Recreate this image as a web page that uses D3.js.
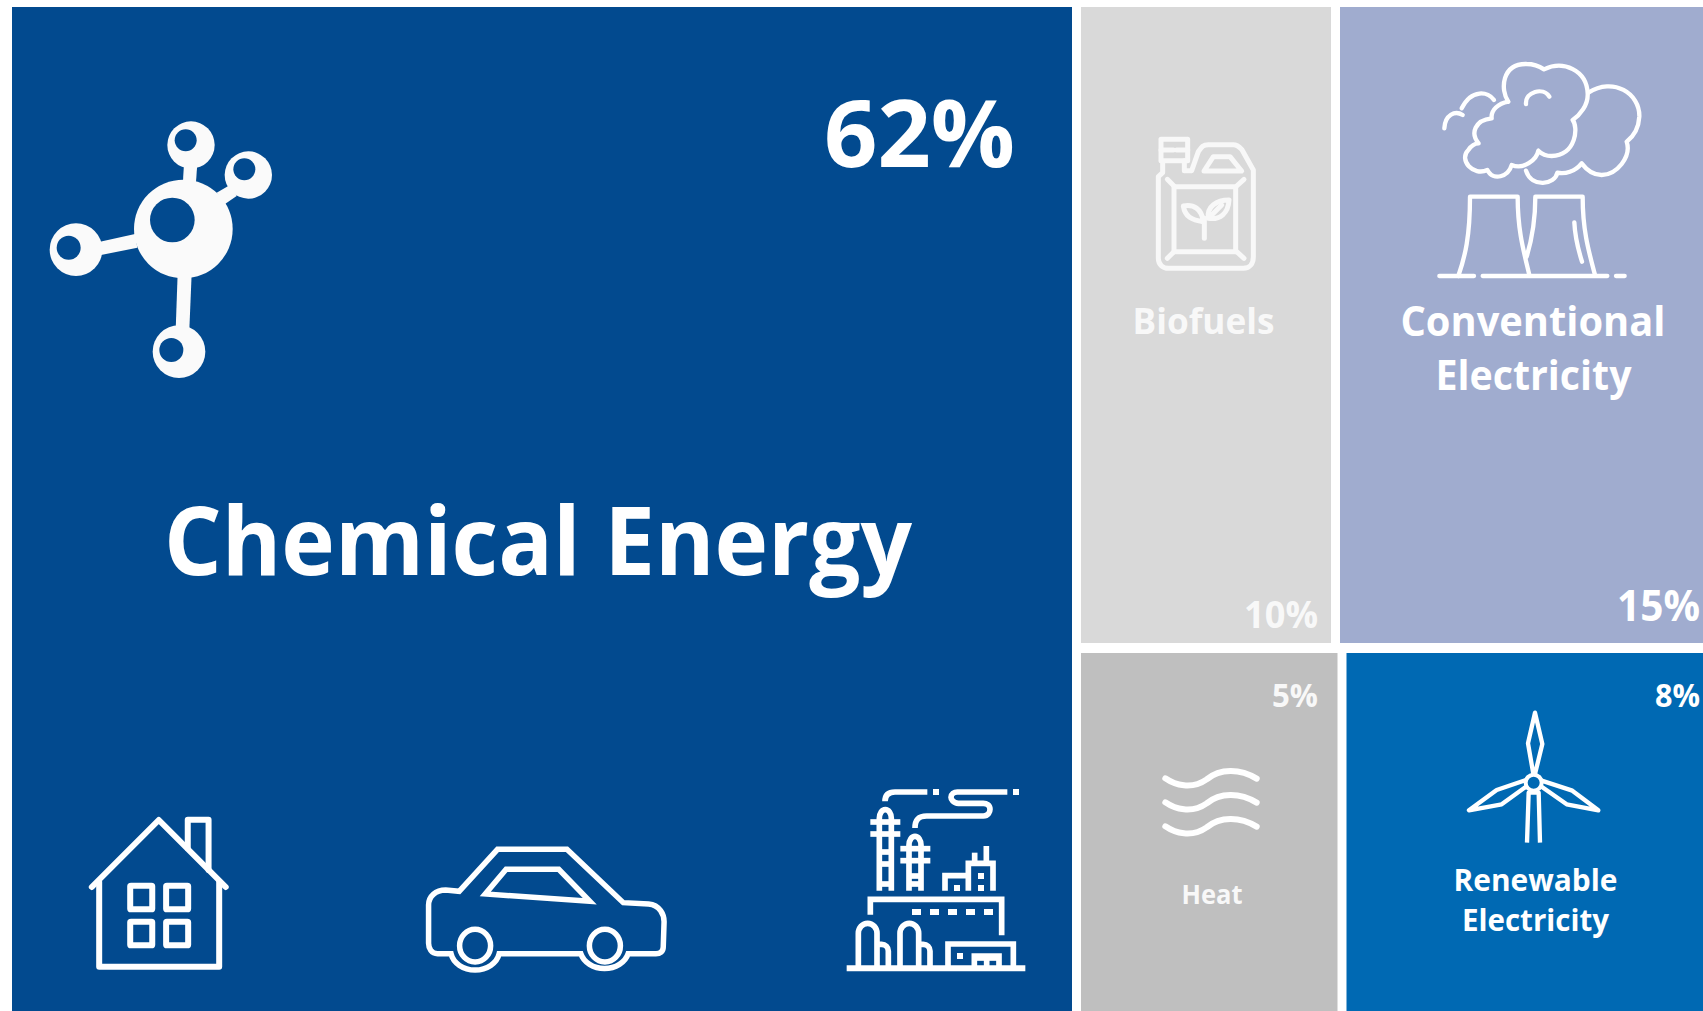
<!DOCTYPE html>
<html><head><meta charset="utf-8">
<script src="https://cdn.jsdelivr.net/npm/d3@7"></script>
<style>html,body{margin:0;padding:0;background:#fff;overflow:hidden}svg{display:block}</style>
</head><body><svg id="c" width="1703" height="1011"></svg>
<script>
const categories = ["Chemical Energy","Biofuels","Conventional Electricity","Heat","Renewable Electricity"];
const shares = [62,10,15,5,8];
const fills = ["#024a8f","#d9d9d9","#a0accf","#bfbfbf","#0069b3"];
const textFills = ["#ffffff","#f8f8f8","#ffffff","#f8f8f8","#ffffff"];

const W=1703,H=1011;
const FONT='"Open Sans", "Noto Sans", sans-serif';
const rest=shares[1]+shares[2]+shares[3]+shares[4];
const topSum=shares[1]+shares[2], botSum=shares[3]+shares[4];
const xMain=d3.scaleLinear().domain([0,shares[0],shares[0]+rest]).range([12,1076.5,W]);
const yRight=d3.scaleLinear().domain([0,topSum,rest]).range([7,648,H]);
const xTop=d3.scaleLinear().domain([0,shares[1],topSum]).range([1076.5,1335.5,W]);
const xBot=d3.scaleLinear().domain([0,shares[3],botSum]).range([1076.5,1342,W]);
const gap=4.5;
const cells=[
 {x0:xMain(0),x1:xMain(shares[0])-gap,y0:7,y1:H},
 {x0:xTop(0)+gap,x1:xTop(shares[1])-gap,y0:yRight(0),y1:yRight(topSum)-5},
 {x0:xTop(shares[1])+gap,x1:xTop(topSum),y0:yRight(0),y1:yRight(topSum)-5},
 {x0:xBot(0)+gap,x1:xBot(shares[3])-gap,y0:yRight(topSum)+5,y1:H},
 {x0:xBot(shares[3])+gap,x1:xBot(botSum),y0:yRight(topSum)+5,y1:H}
];
const svg=d3.select("#c");
svg.selectAll("rect.cell").data(cells).join("rect").attr("class","cell")
 .attr("x",d=>d.x0).attr("y",d=>d.y0).attr("width",d=>d.x1-d.x0).attr("height",d=>d.y1-d.y0)
 .attr("fill",(d,i)=>fills[i]);

function txt(s,x,y,size,anchor,fill,len){
 const t=svg.append("text").attr("x",x).attr("y",y).attr("font-family",FONT).attr("font-weight",700)
  .attr("font-size",size).attr("text-anchor",anchor).attr("fill",fill).text(s);
 if(len) t.attr("textLength",len).attr("lengthAdjust","spacingAndGlyphs");
 return t;
}
const pct=v=>v+"%";
txt(categories[0],538,575,95,"middle",textFills[0],748);
txt(pct(shares[0]),1015,167,94,"end",textFills[0],191);
txt(categories[1],1203.5,334,35,"middle",textFills[1],142);
txt(pct(shares[1]),1318,628,37,"end",textFills[1],74);
txt("Conventional",1533,336,42,"middle",textFills[2],265);
txt("Electricity",1533.5,390,42,"middle",textFills[2],196);
txt(pct(shares[2]),1700,620.5,43,"end",textFills[2],83);
txt(categories[3],1212,904,26,"middle",textFills[3],61);
txt(pct(shares[3]),1318,707,32,"end",textFills[3],46);
txt("Renewable",1535.5,891,30,"middle",textFills[4],164);
txt("Electricity",1535.5,931,30,"middle",textFills[4],147);
txt(pct(shares[4]),1700,707,32,"end",textFills[4],45);

function icon(ox,oy,sx=3,sy=3){return svg.append("g").attr("transform",`translate(${ox},${oy}) scale(${1/sx},${1/sy})`).attr("fill","none");}
function paths(g,list,color,w,extra){list.forEach(d=>{const p=g.append("path").attr("d",d).attr("stroke",color).attr("stroke-width",w);
 if(extra)Object.entries(extra).forEach(([k,v])=>p.attr(k,v));});}
function squares(g,list,color,s){list.forEach(([x,y])=>g.append("rect").attr("x",x).attr("y",y).attr("width",s).attr("height",s).attr("fill",color));}

// molecule
{const g=icon(0,60),c="#fafafa",bg=fills[0];
 [[550,507,148],[573,255,71],[745,345,71],[228,569,79],[537,875,79]].forEach(a=>g.append("circle").attr("cx",a[0]).attr("cy",a[1]).attr("r",a[2]).attr("fill",c));
 ["M552,310L592,310L587,380L548,380Z","M650,398L690,375L710,408L675,432Z","M300,545L405,522L412,563L303,585Z","M533,640L575,640L568,810L527,810Z"].forEach(d=>g.append("path").attr("d",d).attr("fill",c));
 [[517,480,67],[557,241,33],[733,328,33],[206,563,36],[514,870,36]].forEach(a=>g.append("circle").attr("cx",a[0]).attr("cy",a[1]).attr("r",a[2]).attr("fill",bg));
}
// house (crop was 2.45x wide, 3x tall)
{const g=icon(60,760,2.45,3),c="#fff",o={"stroke-linejoin":"round","stroke-linecap":"round","vector-effect":"non-scaling-stroke"};
 paths(g,["M78,381L242,180L406,381","M96,365V620H390V365","M313,265V179H364V330"],c,6,o);
 [[172,377],[260,377],[172,485],[260,485]].forEach(([x,y])=>g.append("rect").attr("x",x).attr("y",y).attr("width",54).attr("height",71).attr("rx",2).attr("stroke",c).attr("stroke-width",6).attr("vector-effect","non-scaling-stroke"));
}
// car
{const g=icon(60,760,2.45,3),c="#fff",o={"vector-effect":"non-scaling-stroke"};
 paths(g,["M978,394L1072,268H1242L1380,428L1442,432C1470,435 1480,465 1480,485L1478,560C1478,575 1470,581 1460,581L1392,581A60,60 0 0 1 1276,581L1076,581A60,60 0 0 1 958,581L925,581C910,581 903,565 903,550L903,435C903,410 920,390 945,390Z",
  "M1093,328H1222L1298,424L1042,402Z"],c,5.5,o);
 [1017,1335].forEach(x=>g.append("ellipse").attr("cx",x).attr("cy",557).attr("rx",38).attr("ry",49).attr("stroke",c).attr("stroke-width",5.5).attr("vector-effect","non-scaling-stroke"));
}
// factory
{const g=icon(820,760),c="#fff";
 paths(g,["M80,625H616"],c,18);
 paths(g,["M115,620V520A28,30 0 0 1 171,520V620","M171,553H185A20,20 0 0 1 205,573V620",
  "M240,620V520A28,30 0 0 1 296,520V620","M296,553H310A20,20 0 0 1 330,573V620",
  "M384,620V552H580V620","M463,620V588H537V620","M463,594H537","M500,588V620",
  "M151,464V418H545V526",
  "M178,392V175A18,26 0 0 1 214,175V392","M151,186H241","M151,222H241","M178,276H214","M178,312H214","M178,372H214",
  "M267,392V255A18,26 0 0 1 303,255V392","M241,266H331","M241,302H331","M267,348H303","M267,372H303",
  "M195,124C195,105 205,96 225,96H322",
  "M285,204C285,180 295,168 320,168H490C505,168 510,155 510,148C510,135 500,130 490,130H415C400,130 393,118 393,112C393,103 402,96 412,96H562",
  "M375,392V347H445","M445,392V310H519V392","M464,305V278","M499,305V258"],c,17);
 squares(g,[[339,87],[579,87],[402,375],[474,339],[474,375],[411,579]],c,18);
 [276,330,384,438,492].forEach(x=>g.append("rect").attr("x",x).attr("y",447).attr("width",27).attr("height",18).attr("fill",c));
}
// jerrycan
{const g=icon(1060,0),c="#f8f8f8",o={"stroke-linejoin":"round","stroke-linecap":"round"};
 paths(g,["M303,418H383V482H303Z","M303,450H340","M383,450H350",
  "M308,485V518L295,530V775C295,795 310,805 325,805H550C570,805 580,790 580,770V510L545,448C535,437 530,434 520,434H445C430,434 425,440 415,455L395,512H373V482",
  "M432,513L460,470H510L545,513Z","M342,560H527V755H342Z","M322,538L342,558","M552,538L530,558","M322,775L342,755","M552,775L530,755",
  "M433,715V655","M370,618C400,612 425,625 430,665C395,660 375,650 370,618Z","M445,655C440,620 470,600 507,600C505,640 480,660 445,655Z","M450,650L485,615"],c,15,o);
}
// power plant
{const g=icon(1400,30),c="#fff",o={"stroke-linecap":"round","stroke-linejoin":"round"};
 paths(g,["M175,738C195,680 210,620 210,500H353C353,600 370,660 388,735","M380,680C395,630 406,570 406,500H548C548,600 565,660 585,735","M523,577C525,620 535,660 546,695",
  "M118,738H222","M248,738H622","M648,738H674",
  "M325,215C300,180 305,100 380,102C405,102 420,110 432,118C490,90 560,120 563,190C565,225 540,255 518,270C535,290 530,375 455,378C440,378 425,372 415,362C410,390 370,420 335,405C325,440 280,455 262,420C220,440 175,390 205,360C215,345 225,340 236,340C210,310 225,270 275,265C272,240 295,220 325,215",
  "M565,188C640,140 720,190 718,260C716,295 700,320 680,335C695,380 650,435 605,435C580,435 560,420 545,400C525,425 495,433 472,428C465,465 395,475 378,422",
  "M378,222C375,185 430,170 448,200","M282,210C265,185 215,175 185,235","M188,255C165,240 135,255 133,295"],c,13,o);
}
// heat
{const g=icon(1060,620),c="#fff";
 [0,72,144].forEach(dy=>paths(g,[`M316,${475+dy}C345,${495+dy} 395,${510+dy} 440,${478+dy}C480,${445+dy} 540,${445+dy} 590,${476+dy}`],c,18,{"stroke-linecap":"round"}));
}
// turbine
{const g=icon(1400,620),c="#fff",o={"stroke-linejoin":"round"};
 g.append("circle").attr("cx",401).attr("cy",488).attr("r",24).attr("stroke",c).attr("stroke-width",12);
 paths(g,["M400,462L384,370L405,278L427,372L405,462","M378,480L290,510L207,571L305,553L378,500","M425,482L517,512L595,571L500,553L425,500","M381,668L386,518H416L420,668"],c,13,o);
}
</script></body></html>
